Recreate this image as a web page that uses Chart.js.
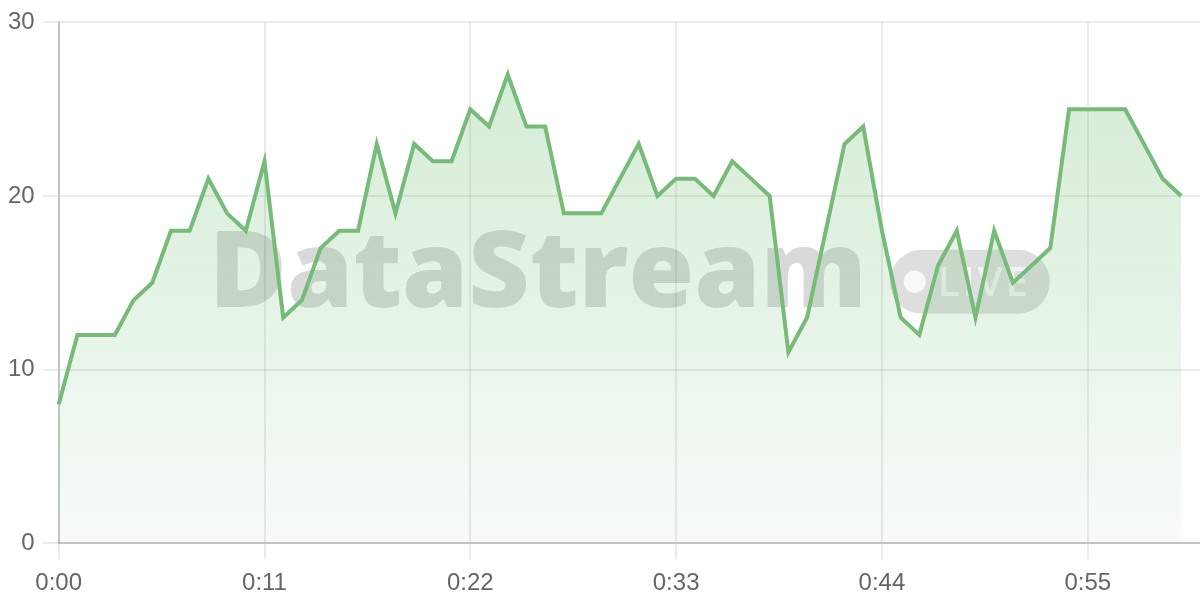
<!DOCTYPE html>
<html>
<head>
<meta charset="utf-8">
<script src="https://cdn.jsdelivr.net/npm/chart.js@4.4.1/dist/chart.umd.min.js"></script>
<style>
  html, body { margin: 0; background: #fff; overflow: hidden; }
  #wrap { width: 1210px; height: 608px; }
</style>
</head>
<body>
<div id="wrap"><canvas id="chart"></canvas></div>
<script>
// === Data ===
const values = [8, 12, 12, 12, 14, 15, 18, 18, 21, 19, 18, 22, 13, 14, 17, 18, 18, 23, 19, 23,
  22, 22, 25, 24, 27, 24, 24, 19, 19, 19, 21, 23, 20, 21, 21, 20, 22, 21, 20, 11,
  13, 18, 23, 24, 18, 13, 12, 16, 18, 13, 18, 15, 16, 17, 25, 25, 25, 25, 23, 21, 20];
const yTicks = [0, 10, 20, 30];
const shownLabels = ["0:00", "0:11", "0:22", "0:33", "0:44", "0:55"];

// one label per second, one extra slot after the last point
const timeLabels = [];
for (let s = 0; s <= values.length; s++) {
  timeLabels.push(Math.floor(s / 60) + ":" + String(s % 60).padStart(2, "0"));
}

const FONT = "'Helvetica Neue', Helvetica, Arial, sans-serif";
const GRID = "rgba(0,0,0,0.08)";
const BORDER = "rgba(0,0,0,0.17)";

// === Watermark behind the line ===
const watermark = {
  id: "watermark",
  beforeDatasetsDraw(chart) {
    const { ctx, chartArea } = chart;
    const cx = (chartArea.left + chartArea.right) / 2;
    const cy = (chartArea.top + chartArea.bottom) / 2;
    ctx.save();
    let size = 100;
    ctx.font = "800 " + size + "px 'Open Sans', 'Noto Sans', sans-serif";
    size = size * 658 / ctx.measureText("DataStream").width;
    ctx.font = "800 " + size + "px 'Open Sans', 'Noto Sans', sans-serif";
    const textW = ctx.measureText("DataStream").width;
    const gap = 23, pillW = 160, pillH = 64;
    const left = cx - (textW + gap + pillW) / 2;

    ctx.fillStyle = "rgba(0,0,0,0.15)";
    ctx.textBaseline = "alphabetic";
    ctx.fillText("DataStream", left, cy + 24);

    const px = left + textW + gap, py = cy - 33;
    ctx.fillStyle = "rgba(0,0,0,0.13)";
    ctx.beginPath();
    ctx.roundRect(px, py, pillW, pillH, pillH / 2);
    ctx.fill();

    ctx.fillStyle = "rgba(255,255,255,0.8)";
    ctx.beginPath();
    ctx.arc(px + 25, py + pillH / 2, 11, 0, Math.PI * 2);
    ctx.fill();
    ctx.fillStyle = "rgba(255,255,255,0.65)";
    ctx.font = "600 40px 'Open Sans', 'Noto Sans', sans-serif";
    ctx.letterSpacing = "3px";
    ctx.fillText("LIVE", px + 48, py + 46);
    ctx.restore();
  }
};

new Chart(document.getElementById("chart"), {
  type: "line",
  data: {
    labels: timeLabels,
    datasets: [{
      data: values,
      borderColor: "rgb(118,188,120)",
      borderWidth: 4,
      pointRadius: 0,
      tension: 0,
      fill: true,
      backgroundColor: (c) => {
        const area = c.chart.chartArea;
        if (!area) return "rgba(102,187,106,0.15)";
        const g = c.chart.ctx.createLinearGradient(0, area.top, 0, area.bottom);
        g.addColorStop(0, "rgba(102,187,106,0.30)");
        g.addColorStop(1, "rgba(102,187,106,0.05)");
        return g;
      }
    }]
  },
  options: {
    responsive: true,
    maintainAspectRatio: false,
    animation: false,
    layout: { padding: { left: 0, top: 6, bottom: 0, right: 0 } },
    plugins: { legend: { display: false }, tooltip: { enabled: false } },
    scales: {
      x: {
        grid: {
          lineWidth: 2,
          tickLength: 16,
          color: (c) => shownLabels.includes(timeLabels[c.index]) ? GRID : "rgba(0,0,0,0)"
        },
        border: { width: 2, color: BORDER },
        ticks: {
          autoSkip: false,
          maxRotation: 0,
          padding: 10,
          color: "#666",
          font: { family: FONT, size: 24 },
          callback: (v, i) => shownLabels.includes(timeLabels[i]) ? timeLabels[i] : ""
        }
      },
      y: {
        min: yTicks[0],
        max: yTicks[yTicks.length - 1],
        grid: { lineWidth: 2, tickLength: 16, color: GRID },
        border: { width: 2, color: BORDER },
        ticks: {
          stepSize: yTicks[1] - yTicks[0],
          padding: 8,
          color: "#666",
          font: { family: FONT, size: 24 }
        }
      }
    }
  },
  plugins: [watermark]
});
</script>
</body>
</html>
